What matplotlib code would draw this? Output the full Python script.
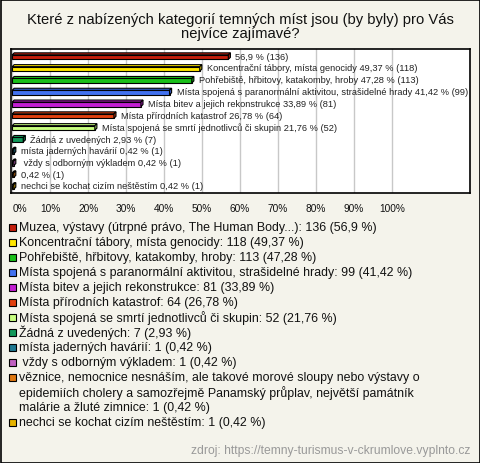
import matplotlib
matplotlib.use("Agg")
import matplotlib.pyplot as plt
from matplotlib.patches import Polygon, Rectangle
import matplotlib.colors as mcolors

plt.rcParams['font.family'] = ['Liberation Sans', 'DejaVu Sans']

# data
names = [
    "Muzea, výstavy (útrpné právo, The Human Body...)",
    "Koncentrační tábory, místa genocidy",
    "Pohřebiště, hřbitovy, katakomby, hroby",
    "Místa spojená s paranormální aktivitou, strašidelné hrady",
    "Místa bitev a jejich rekonstrukce",
    "Místa přírodních katastrof",
    "Místa spojená se smrtí jednotlivců či skupin",
    "Žádná z uvedených",
    "místa jaderných havárií",
    " vždy s odborným výkladem",
    "věznice, nemocnice nesnáším, ale takové morové sloupy nebo výstavy o\n"
    "epidemiích cholery a samozřejmě Panamský průplav, největší památník\n"
    "malárie a žluté zimnice",
    "nechci se kochat cizím neštěstím",
]
# names as printed next to the bars (long ones left out in the chart)
bar_names = [
    "",
    "Koncentrační tábory, místa genocidy",
    "Pohřebiště, hřbitovy, katakomby, hroby",
    "Místa spojená s paranormální aktivitou, strašidelné hrady",
    "Místa bitev a jejich rekonstrukce",
    "Místa přírodních katastrof",
    "Místa spojená se smrtí jednotlivců či skupin",
    "Žádná z uvedených",
    "místa jaderných havárií",
    " vždy s odborným výkladem",
    "",
    "nechci se kochat cizím neštěstím",
]
counts = [136, 118, 113, 99, 81, 64, 52, 7, 1, 1, 1, 1]
pcts = [56.9, 49.37, 47.28, 41.42, 33.89, 26.78, 21.76, 2.93, 0.42, 0.42, 0.42, 0.42]
pct_text = ["56,9", "49,37", "47,28", "41,42", "33,89", "26,78", "21,76",
            "2,93", "0,42", "0,42", "0,42", "0,42"]
colors = ["#c41e0c", "#ffe600", "#1ac01a", "#4272f0", "#c21ed2", "#e2400e",
          "#c8ff80", "#12985a", "#1e7890", "#c060c0", "#e07810", "#e6b400"]
xticks = [0, 10, 20, 30, 40, 50, 60, 70, 80, 90, 100]

W, H = 480, 464
bg = "#f4f3eb"
fig = plt.figure(figsize=(W / 100, H / 100), dpi=100, facecolor=bg)

# title
fig.text(0.5, 1 - 20 / H, "Které z nabízených kategorií temných míst jsou (by byly) pro Vás",
         ha="center", va="center", fontsize=10.6, color="#111111")
fig.text(0.5, 1 - 34 / H, "nejvíce zajímavé?",
         ha="center", va="center", fontsize=10.6, color="#111111")

# plot area
ax = fig.add_axes([11 / W, 1 - 194 / H, 459 / W, 144 / H])
ax.set_facecolor("white")
ax.set_xlim(-0.3, 120.5)
ax.set_ylim(11.6, -0.6)
ax.set_xticks(xticks)
ax.set_xticklabels([f"{t}%" for t in xticks], fontsize=7.3, color="#111111")
ax.xaxis.grid(True, color="#c8c8c8", linewidth=1)
ax.set_axisbelow(True)
ax.tick_params(axis="x", length=0, pad=7)
ax.set_yticks([])
for s in ax.spines.values():
    s.set_linewidth(1.2)
    s.set_color("black")
ax.get_xticklabels()[0].set_ha("left")

h = 0.38      # front face height
dy = 0.17     # depth, vertical
dx = 0.55     # depth, horizontal
ys = list(range(len(pcts)))
ax.barh([y + 0.085 for y in ys], pcts, height=h, color=colors,
        edgecolor="black", linewidth=0.8, zorder=3)
for y, v, c in zip(ys, pcts, colors):
    top = y + 0.085 - h / 2
    bot = y + 0.085 + h / 2
    dark = [x * 0.8 for x in mcolors.to_rgb(c)]
    ax.add_patch(Polygon([(0, top), (v, top), (v + dx, top - dy), (dx, top - dy)],
                         closed=True, facecolor=c, edgecolor="black", linewidth=0.8, zorder=3))
    ax.add_patch(Polygon([(v, top), (v + dx, top - dy), (v + dx, bot - dy), (v, bot)],
                         closed=True, facecolor=dark, edgecolor="black", linewidth=0.8, zorder=3))

for y, v, n, pt, cnt in zip(ys, pcts, bar_names, pct_text, counts):
    label = (n + " " if n else "") + f"{pt} % ({cnt})"
    ax.text(v + dx + 1.3, y, label, fontsize=6.7, color="#222222",
            va="center", ha="left", zorder=4)

# legend, one text line per 15 px row
line_h = 15
y0 = 228
row = 0
for n, cnt, pt, c in zip(names, counts, pct_text, colors):
    yc = y0 + row * line_h
    fig.add_artist(Rectangle((9 / W, 1 - (yc + 3.5) / H), 7 / W, 7 / H,
                             facecolor=c, edgecolor="black", linewidth=0.8,
                             transform=fig.transFigure))
    parts = n.split("\n")
    parts[-1] = f"{parts[-1]}: {cnt} ({pt} %)"
    for line in parts:
        fig.text(19 / W, 1 - (y0 + row * line_h) / H, line, fontsize=8.95,
                 color="#111111", va="center", ha="left")
        row += 1

fig.text(470 / W, 1 - 451 / H, "zdroj: https://temny-turismus-v-ckrumlove.vyplnto.cz",
         fontsize=8.7, color="#999999", ha="right", va="center")

# outer frame
fig.add_artist(Rectangle((0.5 / W, 0.5 / H), (W - 1) / W, (H - 1) / H, fill=False,
                         edgecolor="black", linewidth=1.2, transform=fig.transFigure))

fig.savefig("out.png", dpi=100, facecolor=bg)
